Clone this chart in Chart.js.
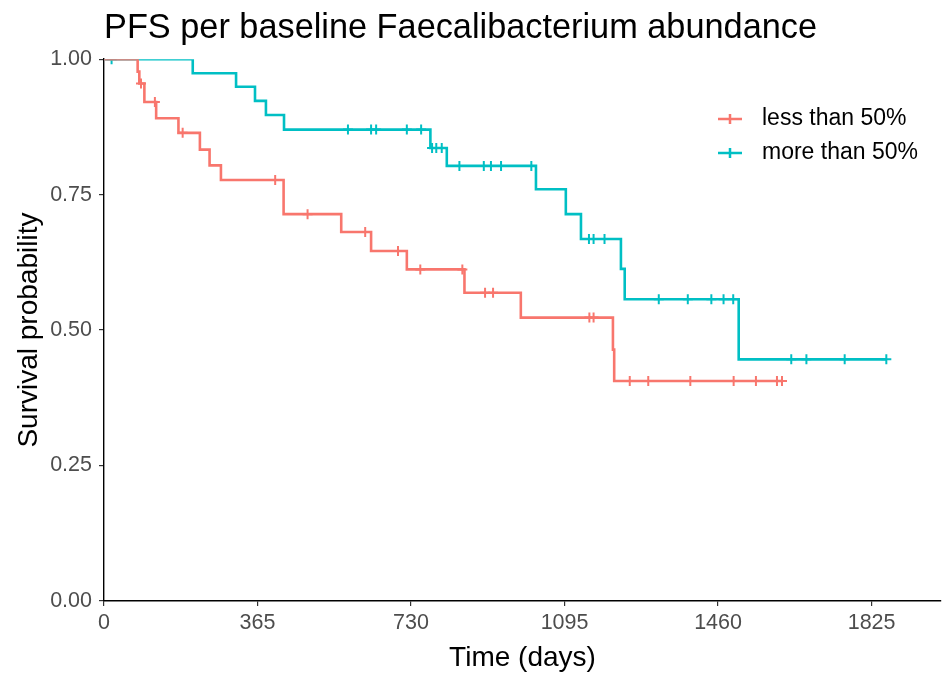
<!DOCTYPE html>
<html>
<head>
<meta charset="utf-8">
<script src="https://cdn.jsdelivr.net/npm/chart.js@4.4.0/dist/chart.umd.min.js"></script>
<style>
  html, body { margin: 0; padding: 0; background: #fff; }
</style>
</head>
<body>
<canvas id="km" width="942" height="675"></canvas>
<script>
// Kaplan-Meier step data (time in days, survival after the drop)
const groupLabels = ['less than 50%', 'more than 50%'];
const groupColors = ['#F8766D', '#00BFC4'];

const lowTimes = [0, 80, 84, 96, 124, 177, 228, 251, 278, 427, 564, 635, 720, 857, 991, 1210, 1213];
const lowSurv = [1, 0.977, 0.955, 0.921, 0.891, 0.864, 0.833, 0.804, 0.777, 0.714, 0.681, 0.646, 0.612, 0.569, 0.523, 0.464, 0.406];
const lowCensor = [88, 121, 187, 407, 484, 621, 699, 752, 852, 906, 925, 1154, 1164, 1250, 1294, 1394, 1497, 1550, 1600, 1612];
const lowEnd = 1612;

const highTimes = [0, 211, 314, 359, 385, 428, 776, 815, 1027, 1098, 1134, 1229, 1238, 1509];
const highSurv = [1, 0.974, 0.949, 0.923, 0.897, 0.870, 0.836, 0.803, 0.760, 0.714, 0.668, 0.613, 0.557, 0.446];
const highCensor = [18, 580, 635, 647, 720, 754, 780, 790, 803, 845, 903, 920, 944, 1016, 1153, 1164, 1190, 1319, 1388, 1444, 1473, 1496, 1634, 1670, 1761, 1860];
const highEnd = 1860;

const xTicks = [0, 365, 730, 1095, 1460, 1825];
const yTicks = [0, 0.25, 0.5, 0.75, 1];

const FONT = "'Liberation Sans', Arial, sans-serif";

function stepPoints(times, surv, end) {
    const pts = times.map((t, i) => ({ x: t, y: surv[i] }));
    pts.push({ x: end, y: surv[surv.length - 1] });
    return pts;
}

// value of the step curve at time t
function survAt(times, surv, t) {
    let s = surv[0];
    for (let i = 0; i < times.length; i++) {
        if (times[i] <= t) s = surv[i];
    }
    return s;
}

function censorPoints(times, surv, censor) {
    return censor.map(t => ({ x: t, y: survAt(times, surv, t) }));
}

// legend drawn inside the panel, top right like ggplot
const kmLegend = {
    id: 'kmLegend',
    afterDraw(chart) {
        const ctx = chart.ctx;
        const rows = [119, 153];
        ctx.save();
        groupLabels.forEach((label, i) => {
            const y = rows[i];
            ctx.strokeStyle = groupColors[i];
            ctx.lineWidth = 2.5;
            ctx.beginPath();
            ctx.moveTo(718, y);
            ctx.lineTo(742, y);
            ctx.moveTo(730, y - 5);
            ctx.lineTo(730, y + 5);
            ctx.stroke();
            ctx.fillStyle = '#000';
            ctx.font = '23px ' + FONT;
            ctx.textBaseline = 'middle';
            ctx.textAlign = 'left';
            ctx.fillText(label, 762, y);
        });
        ctx.restore();
    }
};

const lineDefaults = {
    type: 'line',
    stepped: true,
    borderWidth: 2.6,
    pointRadius: 0,
    fill: false
};

const censorDefaults = {
    type: 'scatter',
    pointStyle: 'cross',
    pointRadius: 5,
    borderWidth: 2,
    pointHoverRadius: 5
};

new Chart(document.getElementById('km'), {
    data: {
        datasets: [
            Object.assign({}, lineDefaults, {
                label: groupLabels[0],
                data: stepPoints(lowTimes, lowSurv, lowEnd),
                borderColor: groupColors[0]
            }),
            Object.assign({}, lineDefaults, {
                label: groupLabels[1],
                data: stepPoints(highTimes, highSurv, highEnd),
                borderColor: groupColors[1]
            }),
            Object.assign({}, censorDefaults, {
                label: 'censor low',
                data: censorPoints(lowTimes, lowSurv, lowCensor),
                borderColor: groupColors[0]
            }),
            Object.assign({}, censorDefaults, {
                label: 'censor high',
                data: censorPoints(highTimes, highSurv, highCensor),
                borderColor: groupColors[1]
            })
        ]
    },
    options: {
        responsive: false,
        animation: false,
        layout: { autoPadding: false, padding: { left: 0, right: 1, top: 0, bottom: 0 } },
        plugins: {
            legend: { display: false },
            tooltip: { enabled: false },
            title: {
                display: true,
                text: 'PFS per baseline Faecalibacterium abundance',
                align: 'start',
                fullSize: false,
                color: '#000',
                font: { family: FONT, size: 34.3, weight: 'normal' },
                padding: { top: 8, bottom: 10 }
            }
        },
        scales: {
            x: {
                type: 'linear',
                min: 0,
                max: 1990,
                afterBuildTicks: (scale) => { scale.ticks = xTicks.map(v => ({ value: v })); },
                afterFit: (scale) => {
                    scale.height = 74;
                    scale.paddingLeft = 0;
                    scale.paddingRight = 0;
                },
                border: { display: true, color: '#000', width: 1.4 },
                grid: { display: true, drawOnChartArea: false, drawTicks: true, tickLength: 5, color: '#333', lineWidth: 1.2 },
                ticks: {
                    color: '#4d4d4d',
                    padding: 4,
                    maxRotation: 0,
                    font: { family: FONT, size: 21.5 },
                    callback: (v) => String(v)
                },
                title: {
                    display: true,
                    text: 'Time (days)',
                    color: '#000',
                    font: { family: FONT, size: 28 },
                    padding: { top: 0, bottom: 0 }
                }
            },
            y: {
                type: 'linear',
                min: 0,
                max: 1,
                afterBuildTicks: (scale) => { scale.ticks = yTicks.map(v => ({ value: v })); },
                afterFit: (scale) => { scale.width = 104; },
                border: { display: true, color: '#000', width: 1.4 },
                grid: { display: true, drawOnChartArea: false, drawTicks: true, tickLength: 5, color: '#333', lineWidth: 1.2 },
                ticks: {
                    color: '#4d4d4d',
                    padding: 7,
                    font: { family: FONT, size: 21.5 },
                    callback: (v) => Number(v).toFixed(2)
                },
                title: {
                    display: true,
                    text: 'Survival probability',
                    color: '#000',
                    font: { family: FONT, size: 28 },
                    padding: { top: 12, bottom: 0 }
                }
            }
        }
    },
    plugins: [kmLegend]
});
</script>
</body>
</html>
